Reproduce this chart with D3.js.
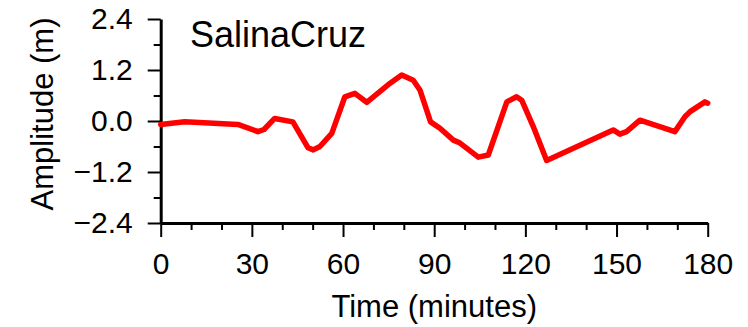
<!DOCTYPE html>
<html>
<head>
<meta charset="utf-8">
<script src="https://cdn.jsdelivr.net/npm/d3@7"></script>
<style>
  body { margin: 0; background: #fff; }
  text { font-family: "Liberation Sans", Arial, Helvetica, sans-serif; fill: #000; }
</style>
</head>
<body>
<div id="chart"></div>
<script>
// tide gauge record
var timeMin = [0, 7.9, 25.4, 32, 34, 37.5, 43.5, 48.5, 50.2, 52.4, 56.3, 60.6, 63.9, 67.8,
  75.5, 79.3, 83.1, 85.3, 88.8, 91.9, 96.3, 98.5, 104.5, 107.8, 113.9, 117.1, 118.8,
  122.6, 127, 148.9, 151.1, 153.3, 157.7, 169.2, 172.5, 174.2, 179.1, 180];
var amplitude = [-0.08, -0.02, -0.08, -0.25, -0.2, 0.06, -0.02, -0.63, -0.68, -0.6, -0.29, 0.57, 0.65, 0.44,
  0.89, 1.08, 0.96, 0.73, -0.02, -0.17, -0.45, -0.52, -0.85, -0.8, 0.45, 0.57, 0.49,
  -0.13, -0.93, -0.21, -0.31, -0.25, 0.02, -0.25, 0.1, 0.22, 0.45, 0.42];

var xTicks = [0, 30, 60, 90, 120, 150, 180];
var xMinor = [10, 20, 40, 50, 70, 80, 100, 110, 130, 140, 160, 170];
var yTicks = [-2.4, -1.2, 0.0, 1.2, 2.4];
var yMinor = [-1.8, -0.6, 0.6, 1.8];
var stationName = "SalinaCruz";

var width = 748, height = 327;
var margin = {top: 19, right: 40, bottom: 104, left: 160.7};

var svg = d3.select("#chart").append("svg")
    .attr("width", width)
    .attr("height", height);

var xScale = d3.scaleLinear()
    .domain([0, 180])
    .range([margin.left, 707.7]);

var yScale = d3.scaleLinear()
    .domain([-2.4, 2.4])
    .range([223, margin.top]);

// minor ticks first, no labels
svg.append("g")
    .attr("transform", "translate(0,223)")
    .call(d3.axisBottom(xScale).tickValues(xMinor).tickSize(7).tickFormat("").tickSizeOuter(0))
    .call(function(g) { g.select(".domain").remove(); });

svg.append("g")
    .attr("transform", "translate(" + margin.left + ",0)")
    .call(d3.axisLeft(yScale).tickValues(yMinor).tickSize(7).tickFormat("").tickSizeOuter(0))
    .call(function(g) { g.select(".domain").remove(); });

// major axes
var xAxis = svg.append("g")
    .attr("transform", "translate(0,223)")
    .call(d3.axisBottom(xScale).tickValues(xTicks).tickSize(14).tickPadding(16)
      .tickFormat(d3.format("d")).tickSizeOuter(0));

var yAxis = svg.append("g")
    .attr("transform", "translate(" + margin.left + ",0)")
    .call(d3.axisLeft(yScale).tickValues(yTicks).tickSize(13).tickPadding(15)
      .tickFormat(function(d) { return d3.format(".1f")(d).replace("-", "\u2212"); }).tickSizeOuter(0));

svg.selectAll(".tick line").attr("stroke", "#000").attr("stroke-width", 2);
svg.selectAll(".domain").attr("stroke", "#000").attr("stroke-width", 3);
svg.selectAll(".tick text")
    .style("font-size", "30px")
    .style("font-family", "'Liberation Sans', Arial, sans-serif")
    .attr("fill", "#000");

// the record
var line = d3.line()
    .x(function(d, i) { return xScale(timeMin[i]); })
    .y(function(d) { return yScale(d); });

svg.append("path")
    .datum(amplitude)
    .attr("d", line)
    .attr("fill", "none")
    .attr("stroke", "#ff0000")
    .attr("stroke-width", 5.5)
    .attr("stroke-linejoin", "round")
    .attr("stroke-linecap", "round");

// labels
svg.append("text")
    .attr("x", 190)
    .attr("y", 47)
    .style("font-size", "36px")
    .text(stationName);

svg.append("text")
    .attr("x", (xScale(0) + xScale(180)) / 2)
    .attr("y", 317)
    .attr("text-anchor", "middle")
    .style("font-size", "31px")
    .text("Time (minutes)");

svg.append("text")
    .attr("transform", "translate(53,114) rotate(-90)")
    .attr("text-anchor", "middle")
    .style("font-size", "31px")
    .text("Amplitude (m)");
</script>
</body>
</html>
